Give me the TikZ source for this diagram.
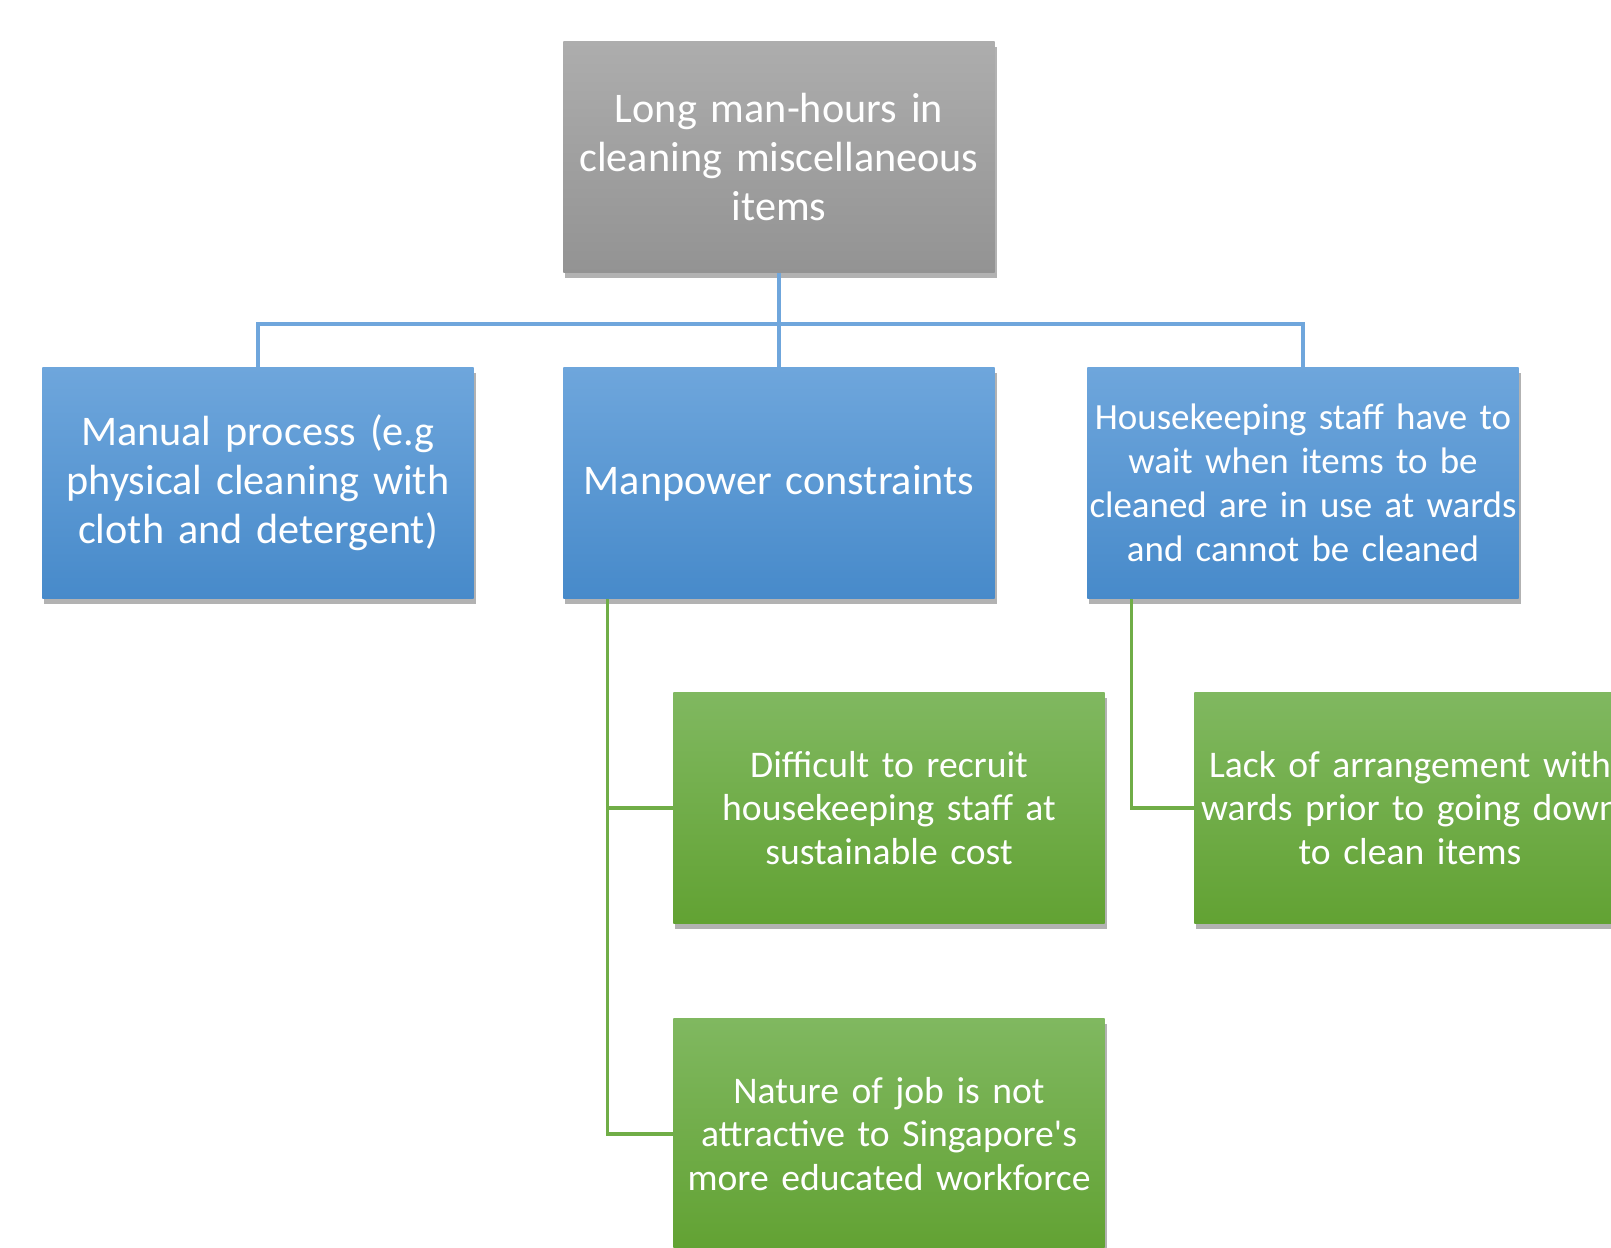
\documentclass[tikz,border=0pt]{standalone}
\usepackage{fontspec}
\setmainfont{Carlito}[Ligatures=TeXOff,WordSpace=0.8]
\usetikzlibrary{positioning,shadows,calc}

\definecolor{greytop}{HTML}{ADADAD}
\definecolor{greybot}{HTML}{939393}
\definecolor{bluetop}{HTML}{6EA6DC}
\definecolor{bluebot}{HTML}{478ACA}
\definecolor{greentop}{HTML}{80B860}
\definecolor{greenbot}{HTML}{62A233}
\definecolor{blueline}{HTML}{6FA6DC}
\definecolor{greenline}{HTML}{70AD47}

\begin{document}
\begin{tikzpicture}[x=0.01cm,y=-0.01cm,
	box/.style={rectangle,minimum width=4.31cm,minimum height=2.31cm,
		text width=4.3cm,inner sep=0pt,align=center,text=white,
		drop shadow={shadow xshift=0.6pt,shadow yshift=-1.6pt,opacity=0.3,fill=black}},
	headbox/.style={box,top color=greytop,bottom color=greybot,
		font=\fontsize{12}{13.9}\selectfont},
	causebox/.style={box,top color=bluetop,bottom color=bluebot,
		font=\fontsize{12}{13.9}\selectfont},
	reasonbox/.style={box,top color=greentop,bottom color=greenbot,
		font=\fontsize{10.7}{12.4}\selectfont},
	bluelink/.style={draw=blueline,line width=0.9pt},
	greenlink/.style={draw=greenline,line width=0.9pt}]
	\fill[white] (0,0) rectangle (1611,1248);
	\clip (0,0) rectangle (1611,1248);
	% top of the tree
	\node[headbox] (long) at (779,157) {Long man-hours in\\cleaning miscellaneous\\items};
	% first level
	\node[causebox] (manual) at (258,483) {Manual process (e.g\\physical cleaning with\\cloth and detergent)};
	\node[causebox] (manpower) at (779,483) {Manpower constraints};
	\node[causebox,font=\fontsize{10.5}{12.5}\selectfont] (wait) at (1303,483)
		{Housekeeping staff have to\\wait when items to be\\cleaned are in use at wards\\and cannot be cleaned};
	% second level
	\node[reasonbox] (recruit) at (889,808) {Difficult to recruit\\housekeeping staff at\\sustainable cost};
	\node[reasonbox] (nature) at (889,1134) {Nature of job is not\\attractive to Singapore's\\more educated workforce};
	\node[reasonbox] (arrange) at (1410,808) {Lack of arrangement with\\wards prior to going down\\to clean items};
	% links
	\coordinate (bus) at (779,324);
	\draw[bluelink] (long.south) -- (manpower.north);
	\draw[bluelink] (manual.north) |- (bus) -| (wait.north);
	\foreach \X in {recruit,nature}
		\draw[greenlink] ([xshift=0.45cm]manpower.south west) |- (\X.west);
	\draw[greenlink] ([xshift=0.45cm]wait.south west) |- (arrange.west);
\end{tikzpicture}
\end{document}
